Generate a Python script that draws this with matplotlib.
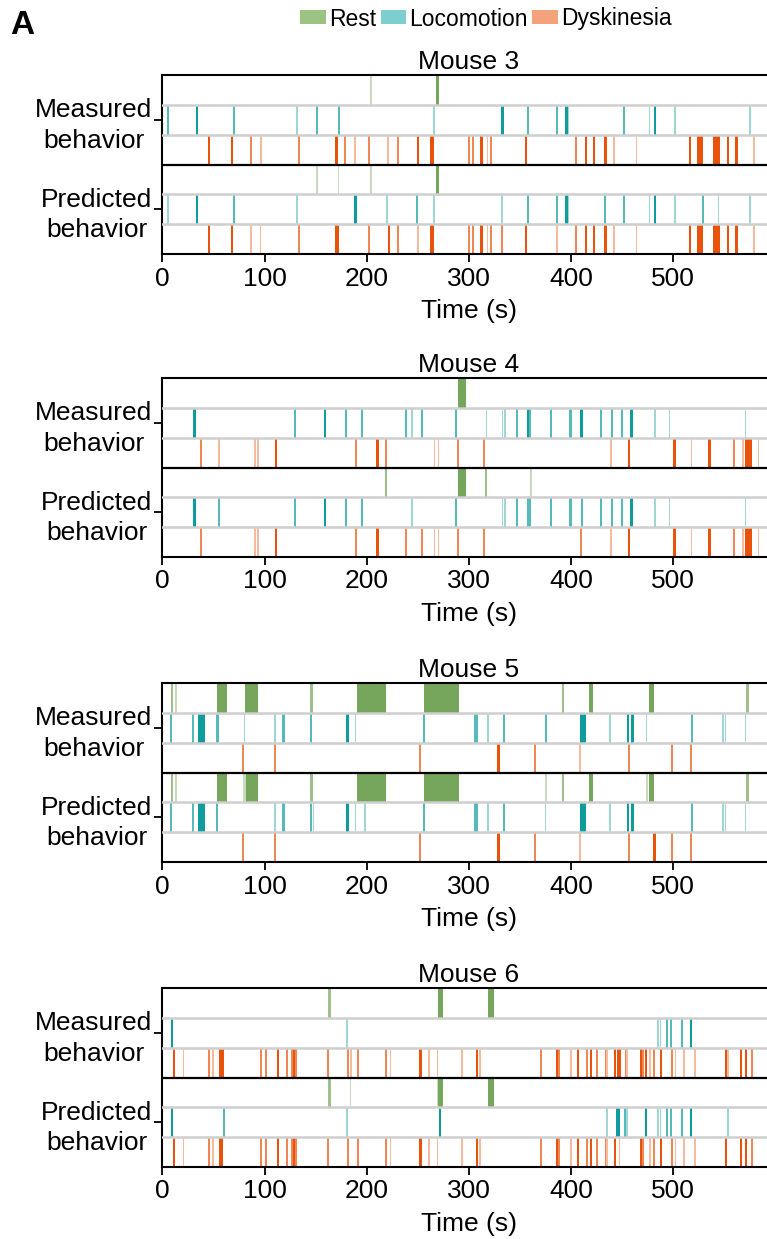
import matplotlib
matplotlib.use('Agg')
import matplotlib.pyplot as plt
from matplotlib.colors import to_rgb
from matplotlib.patches import Patch

plt.rcParams['font.family'] = ['Liberation Sans', 'DejaVu Sans']

# shade levels of the event marks (dark / mid / light)
D, M, L = 1.0, 0.7, 0.4

mice = ['Mouse 3', 'Mouse 4', 'Mouse 5', 'Mouse 6']
behaviors = ['Rest', 'Locomotion', 'Dyskinesia']
block_labels = ['Measured\nbehavior', 'Predicted\nbehavior']
xticks = [0, 100, 200, 300, 400, 500]

# events: (start s, duration s, strength)
m3_meas_rest = [(203, 1.2, L), (268, 2, D)]
m3_meas_loco = [(4.3, 1.5, M), (32.7, 2, D), (69.2, 1.5, M), (130.8, 1.5, L), (150.4, 1.5, M),
                (171.6, 1.5, M), (264.6, 1.5, L), (331.4, 2, D), (356.5, 1.5, M), (385.2, 1.5, M),
                (394, 2, D), (396.7, 1.2, L), (450.8, 1.5, M), (475.9, 1.2, L), (480.8, 2, D),
                (501, 1.5, L), (574.1, 1.5, L)]
m3_meas_dysk = [(44.4, 2, D), (66.9, 2, D), (85.8, 1.5, M), (95.3, 1.5, L), (132.5, 1.5, M),
                (169.3, 2.5, D), (178.1, 1.5, M), (187.9, 1.2, L), (201.6, 1.5, M), (219.5, 2, L),
                (229.6, 1.5, M), (248.9, 2, D), (262.0, 3, D), (299.4, 1.5, M), (303.3, 1.5, M),
                (311.2, 2, D), (317.4, 1.2, L), (320.3, 1.5, M), (354.6, 2, D), (403.8, 1.5, M),
                (413.3, 1.5, D), (421.1, 1.5, D), (432.5, 2, D), (441, 1.5, L), (463.2, 1.2, L),
                (515.1, 2, D), (523.4, 5.2, D), (539.1, 5.9, D), (552.2, 2, D), (560.4, 2, D),
                (577.7, 2, L)]
m3_pred_rest = [(150.4, 1.2, L), (171.6, 1.2, L), (203, 1.2, L), (268, 2, D)]
m3_pred_loco = [(4.3, 1.5, L), (32.7, 2, D), (69.2, 1.5, M), (130.8, 1.5, L), (187.9, 2, D),
                (218.9, 1.5, L), (248.2, 1.5, M), (264.6, 1.5, L), (331.4, 1.5, L), (356.5, 1.5, M),
                (385.2, 1.5, M), (394, 2, D), (396.7, 1.2, L), (432.5, 1.5, M), (450.8, 1.5, M),
                (475.9, 1.2, L), (480.8, 2, D), (501, 1.5, L), (528.1, 1.5, M), (543.4, 1.2, L),
                (574.1, 1.5, L)]
m3_pred_dysk = [(44.4, 2, D), (66.9, 2, D), (85.8, 1.2, L), (95.3, 1.2, L), (132.5, 1.5, M),
                (168.5, 3.5, D), (201.6, 1.5, M), (220.5, 2, D), (229.6, 1.5, M), (248.9, 1.5, L),
                (262.0, 3, D), (299.4, 1.5, M), (303.3, 1.5, M), (311.2, 2, D), (317.4, 1.2, L),
                (320.3, 1.5, M), (331.4, 1.5, M), (354.6, 2, D), (385.2, 1.5, L), (403.8, 1.5, M),
                (413.3, 1.5, D), (421.1, 1.5, D), (432.5, 2, D), (441, 1.5, L), (463.2, 1.2, L),
                (515.1, 2, D), (523.4, 5.2, D), (539.1, 5.9, D), (552.2, 2, D), (560.4, 2, D),
                (577.7, 2, L)]

m4_meas_rest = [(289.5, 7.5, D)]
m4_meas_loco = [(30, 2.5, D), (128.7, 1.5, M), (157.8, 2, D), (179.1, 1.5, M), (194.8, 1.5, M),
                (237.9, 1.5, M), (243.5, 1.2, L), (252.9, 1.5, M), (286.6, 1.5, M), (316.4, 1.2, L),
                (332, 1.2, L), (334.5, 1.2, L), (346.1, 1.5, M), (356.5, 1.5, D), (359, 1.5, M),
                (379.7, 1.5, M), (398.4, 1.5, M), (408.5, 2.5, D), (428.1, 1.5, M), (438.6, 1.5, M),
                (448.4, 1.5, M), (457.8, 2, D), (481.1, 1.2, L), (495.4, 1.2, L), (569.9, 1.2, L)]
m4_meas_dysk = [(36.6, 1.5, M), (54.9, 1.5, L), (89.5, 1.2, L), (92.8, 1.2, L), (109.8, 2, D),
                (188.9, 1.5, M), (209.5, 2.5, D), (218, 1.5, M), (265.4, 1.2, L), (269.3, 1.2, L),
                (287.9, 1.5, M), (313.7, 1.5, M), (437.9, 1.2, L), (455.2, 2, D), (500, 2, D),
                (517, 1.2, L), (534, 2, D), (558.8, 1.5, M), (567.3, 1.2, L), (569.9, 1.5, D),
                (571.6, 1.5, D), (573.2, 1.5, D), (574.8, 1.5, D), (582.4, 1.2, L)]
m4_pred_rest = [(218, 1.2, M), (289.5, 7.5, D), (316, 1.2, M), (359.8, 1.2, L)]
m4_pred_loco = [(30, 2.5, D), (54.9, 1.5, M), (128.7, 1.5, M), (157.8, 2, D), (179.1, 1.5, M),
                (194.8, 1.5, M), (243.8, 1.2, L), (286.6, 1.5, M), (332, 1.2, L), (334.5, 1.2, L),
                (346.1, 1.5, M), (356.5, 1.5, M), (359, 1.5, M), (379.7, 1.5, M), (398.4, 1.5, M),
                (409.8, 1.5, M), (428.1, 1.5, M), (438.6, 1.5, M), (448.4, 1.5, M), (457.8, 2, D),
                (481.1, 1.2, L), (495.4, 1.2, L), (569.9, 1.2, L)]
m4_pred_dysk = [(36.6, 1.5, M), (89.5, 1.2, L), (92.8, 1.2, L), (109.8, 2, D), (188.9, 1.5, M),
                (209.5, 2.5, D), (237.9, 1.5, M), (253.3, 1.5, M), (265.4, 1.2, L), (269.3, 1.2, L),
                (287.9, 1.5, M), (313.7, 1.5, M), (408.5, 1.5, M), (437.9, 1.2, L), (455.2, 2, D),
                (500, 2, D), (517, 1.2, L), (534, 2, D), (558.8, 1.5, M), (567.3, 1.2, L),
                (569.9, 1.5, D), (571.6, 1.5, D), (573.2, 1.5, D), (574.8, 1.5, D), (582.4, 1.2, L)]

m5_meas_rest = [(8.8, 1.5, M), (12.3, 1.2, L), (53.9, 8.8, D), (81.1, 11.7, D), (144.8, 2.6, M),
                (190.8, 27.8, D), (256.2, 33.3, D), (391.5, 1.2, M), (417.5, 3, D), (476.5, 4, D),
                (571.3, 2.5, M)]
m5_meas_loco = [(7.8, 1.5, M), (29.4, 1.5, M), (34.6, 1.5, D), (36.3, 1.5, D), (37.9, 1.5, D),
                (39.5, 1.5, D), (52.6, 2, M), (79.7, 1.2, L), (109.2, 1.2, L), (117.6, 1.5, M),
                (144.1, 1.5, M), (179.5, 3, D), (188.2, 1.2, L), (254.6, 1.5, M), (305.2, 1.5, M),
                (307.2, 1.5, M), (317.6, 1.2, L), (333, 1.5, M), (374.8, 1.5, M), (408.5, 1.5, D),
                (410.5, 1.5, D), (412.5, 1.5, D), (437.5, 1.2, L), (454.6, 2, D), (458.9, 2, D),
                (473, 1.2, L), (517, 1.5, M), (547.7, 1.2, L), (550.3, 1.2, L), (569.9, 1.2, L)]
m5_meas_dysk = [(78.1, 1.5, M), (109.2, 1.5, M), (250.7, 1.5, M), (327.5, 2, D), (363.7, 1.5, M),
                (407.5, 1.2, L), (455.9, 1.5, M), (497.4, 1.5, M), (516.4, 1.5, M)]
m5_pred_rest = [(8.8, 1.5, M), (12.3, 1.2, L), (53.5, 9.2, D), (79.1, 2.5, L), (81.6, 11.2, D),
                (144.8, 2.6, M), (190.8, 27.8, D), (256.2, 33.3, D), (374.8, 1.2, L), (391.5, 1.2, M),
                (417.5, 3, D), (473.5, 1.2, L), (476.5, 4, D), (571.3, 2.5, M)]
m5_pred_loco = [(7.8, 1.5, M), (29.4, 1.5, M), (34.6, 1.5, D), (36.3, 1.5, D), (37.9, 1.5, D),
                (39.5, 1.5, D), (52.3, 1.5, M), (109.2, 1.2, L), (117.6, 1.5, M), (144.1, 1.5, M),
                (147.1, 1.2, L), (179.5, 3, D), (188.2, 1.2, L), (197.4, 1.2, L), (254.6, 1.5, M),
                (305.2, 1.5, M), (307.2, 1.5, M), (317.6, 1.2, L), (333, 1.5, M), (374.2, 1.2, L),
                (408.5, 1.5, D), (410.5, 1.5, D), (412.5, 1.5, D), (437.5, 1.2, L), (454.6, 2, D),
                (458.9, 2, D), (517, 1.5, M), (547.7, 1.2, L), (550.3, 1.2, L), (569.9, 1.2, L)]
m5_pred_dysk = [(78.1, 1.5, M), (109.2, 1.5, M), (250.7, 1.5, M), (327.5, 2, D), (363.7, 1.5, M),
                (407.5, 1.2, L), (455.9, 1.5, M), (480.1, 2, D), (497.4, 1.5, M), (516.4, 1.5, M)]

m6_meas_rest = [(162, 2.5, M), (269.3, 5.2, D), (318.3, 5.5, D)]
m6_meas_loco = [(8.8, 1.5, D), (180.1, 1.2, L), (484.3, 1.2, L), (486.6, 1.2, L), (492.5, 1.5, M),
                (496.4, 1.5, M), (507.8, 1.5, M), (516, 1.5, D)]
m6_meas_dysk = [(10.1, 1.5, D), (19.9, 1.2, L), (45.1, 1.5, M), (48.4, 1.2, L), (55.9, 1.5, D),
                (57.2, 1.5, D), (58.5, 1.5, D), (95.8, 1.5, M), (100, 1.5, M), (111.8, 1.5, D),
                (121.3, 1.5, M), (125.8, 1.5, M), (127.5, 1.5, D), (129.4, 1.5, M), (161.4, 1.5, M),
                (181.1, 1.5, M), (183.7, 1.2, L), (190.5, 1.5, M), (218, 1.5, M), (222.5, 1.2, L),
                (251, 2.5, D), (260.1, 1.2, L), (268.3, 1.2, L), (292.6, 1.2, L), (307.2, 1.5, D),
                (309.8, 1.2, L), (369.9, 1.5, M), (385.6, 1.5, D), (386.9, 1.5, M), (399, 1.2, L),
                (406.2, 1.5, D), (414.7, 1.5, M), (418.3, 1.5, D), (424.8, 1.5, M), (432.7, 1.5, M),
                (434.6, 1.2, L), (441.5, 1.5, D), (444.8, 1.5, D), (446.4, 1.5, D), (452.3, 1.5, M),
                (453.9, 1.2, L), (467.6, 1.5, D), (469.3, 1.5, M), (472.3, 1.5, D), (476.5, 1.2, L),
                (480.1, 1.5, M), (486.6, 1.5, D), (498, 1.5, M), (501.3, 1.2, L), (509.8, 1.2, L),
                (520.3, 1.2, L), (551, 1.5, D), (552.9, 1.2, L), (565.4, 1.5, D), (570.6, 1.5, D),
                (576.2, 1.5, M)]
m6_pred_rest = [(162, 2.5, M), (183.3, 1.2, L), (268.8, 1.2, L), (270, 4.5, D), (318.3, 5.5, D)]
m6_pred_loco = [(8.8, 1.5, D), (59.2, 1.5, M), (180.1, 1.2, L), (270.9, 1.5, D), (434.6, 1.2, L),
                (444.4, 2.5, D), (451.6, 1.5, M), (453.9, 1.2, L), (471.9, 1.5, D), (484.3, 1.2, L),
                (486.6, 1.2, L), (492.5, 1.5, M), (496.4, 1.5, M), (507.8, 1.5, M), (516, 1.5, D),
                (552.9, 1.2, L)]
m6_pred_dysk = [(10.1, 1.5, D), (19.9, 1.2, L), (45.1, 1.5, M), (48.4, 1.2, L), (55.9, 1.5, D),
                (57.2, 1.5, D), (95.8, 1.5, M), (100, 1.5, M), (111.8, 1.5, D), (121.3, 1.5, M),
                (125.8, 1.5, M), (127.5, 1.5, D), (129.4, 1.5, M), (161.4, 1.5, M), (181.1, 1.5, M),
                (190.5, 1.5, M), (218, 1.5, M), (222.5, 1.2, L), (251, 2.5, D), (260.1, 1.2, L),
                (268.3, 1.2, L), (292.6, 1.2, L), (307.2, 1.5, D), (309.8, 1.2, L), (369.9, 1.5, M),
                (385.6, 1.5, D), (386.9, 1.5, M), (399, 1.2, L), (406.2, 1.5, D), (414.7, 1.5, M),
                (418.3, 1.5, D), (424.8, 1.5, M), (432.7, 1.5, M), (434.6, 1.2, L), (441.5, 1.5, D),
                (446.4, 1.2, L), (467.6, 1.5, D), (469.3, 1.5, M), (476.5, 1.2, L), (480.1, 1.5, M),
                (486.6, 1.5, D), (498, 1.5, M), (501.3, 1.2, L), (509.8, 1.2, L), (520.3, 1.2, L),
                (551, 1.5, D), (565.4, 1.5, D), (570.6, 1.5, D), (576.2, 1.5, M)]

mouse_data = [
    [[m3_meas_rest, m3_meas_loco, m3_meas_dysk], [m3_pred_rest, m3_pred_loco, m3_pred_dysk]],
    [[m4_meas_rest, m4_meas_loco, m4_meas_dysk], [m4_pred_rest, m4_pred_loco, m4_pred_dysk]],
    [[m5_meas_rest, m5_meas_loco, m5_meas_dysk], [m5_pred_rest, m5_pred_loco, m5_pred_dysk]],
    [[m6_meas_rest, m6_meas_loco, m6_meas_dysk], [m6_pred_rest, m6_pred_loco, m6_pred_dysk]],
]

line_colors = ['#76a55c', '#0f9c9c', '#e8520a']
legend_colors = ['#9dc383', '#7dcfcf', '#f4a27c']
line_pad = 0.5  # extra width (s) so that thin marks stay visible


def shade(color, a):
    # solid colour, faded towards white
    return tuple(1 - a * (1 - c) for c in to_rgb(color))


W, H = 767, 1239
fig = plt.figure(figsize=(W / 100, H / 100), dpi=100)

ax_left, ax_right = 162.3, 775.5
ax_tops = [75, 378, 683, 988]
ax_h = 179
fs = 19

for k, name in enumerate(mice):
    top = ax_tops[k]
    ax = fig.add_axes([ax_left / W, 1 - (top + ax_h) / H, (ax_right - ax_left) / W, ax_h / H])
    for b in range(2):
        for r in range(3):
            events = mouse_data[k][b][r]
            y0 = 5 - (b * 3 + r)
            starts = [s for s, d, a in events]
            durs = [d + line_pad for s, d, a in events]
            cols = [shade(line_colors[r], a) for s, d, a in events]
            ax.bar(starts, 1, width=durs, bottom=y0, align='edge', color=cols,
                   linewidth=0, edgecolor='none', antialiased=False, zorder=2)
    for y in [1, 2, 4, 5]:
        ax.axhline(y, color='#cfcfcf', lw=1.8, zorder=3)
    ax.axhline(3, color='black', lw=1.6, zorder=4)
    ax.set_xlim(0, 600)
    ax.set_ylim(0, 6)
    ax.set_xticks(xticks)
    ax.set_yticks([4.5, 1.5])
    ax.set_yticklabels(block_labels)
    for lbl in ax.get_yticklabels():
        lbl.set_multialignment('center')
        lbl.set_linespacing(1.35)
    ax.tick_params(axis='both', labelsize=fs, length=6, width=1.3, direction='out')
    ax.tick_params(axis='y', pad=1)
    ax.tick_params(axis='x', pad=3)
    for sp in ['left', 'bottom', 'top']:
        ax.spines[sp].set_linewidth(1.5)
    ax.spines['right'].set_visible(False)
    ax.set_title(name, fontsize=fs, pad=4)
    ax.set_xlabel('Time (s)', fontsize=fs, labelpad=6)

handles = [Patch(facecolor=c, edgecolor='none') for c in legend_colors]
fig.legend(handles, behaviors, loc='center', bbox_to_anchor=(486 / W, 1 - 19 / H),
           ncol=3, frameon=False, fontsize=16.5, handlelength=1.1, handleheight=0.55,
           handletextpad=0.15, columnspacing=0.2, borderpad=0)

fig.text(10 / W, 1 - 26 / H, 'A', fontsize=24, fontweight='bold', va='center', ha='left')

fig.savefig('out.png', dpi=100)
